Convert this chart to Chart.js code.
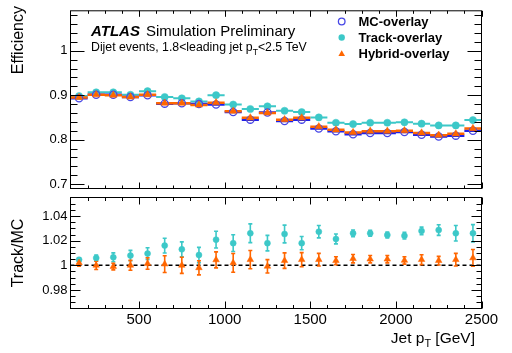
<!DOCTYPE html>
<html><head><meta charset="utf-8">
<script src="https://cdn.jsdelivr.net/npm/chart.js@4"></script>
<style>
html,body{margin:0;padding:0;background:#fff;}
#wrap{position:relative;width:512px;height:353px;background:#fff;}
canvas{position:absolute;left:0;top:0;}
</style></head><body>
<div id="wrap"><canvas id="cTop" width="512" height="353"></canvas><canvas id="cBot" width="512" height="353"></canvas></div>
<script>
// ---- data ----
const ptBins = [150,250,350,450,550,650,750,850,950,1050,1150,1250,1350,1450,1550,1650,1750,1850,1950,2050,2150,2250,2350,2450];
const binHalfWidth = 50;
const effMC     = [0.893,0.901,0.901,0.896,0.900,0.881,0.882,0.880,0.879,0.862,0.845,0.861,0.842,0.845,0.825,0.819,0.812,0.815,0.815,0.817,0.811,0.807,0.809,0.820];
const effTrack  = [0.898,0.9065,0.9065,0.901,0.909,0.896,0.893,0.886,0.900,0.879,0.869,0.875,0.865,0.862,0.850,0.838,0.835,0.838,0.838,0.839,0.836,0.832,0.832,0.844];
const effHybrid = [0.895,0.901,0.900,0.896,0.901,0.882,0.882,0.878,0.883,0.864,0.849,0.860,0.845,0.849,0.829,0.822,0.816,0.819,0.819,0.820,0.815,0.810,0.813,0.825];
const ratioTrack     = [1.0046,1.006,1.0065,1.0079,1.0095,1.016,1.013,1.0084,1.0208,1.018,1.026,1.018,1.0254,1.018,1.0273,1.0214,1.026,1.026,1.0246,1.024,1.0279,1.0286,1.026,1.026];
const ratioTrackErr  = [0.0014,0.0024,0.0036,0.0042,0.0047,0.006,0.006,0.0062,0.0068,0.0068,0.0076,0.0063,0.0072,0.0054,0.005,0.004,0.0027,0.0024,0.0023,0.0027,0.0031,0.0043,0.0063,0.007];
const ratioHybrid    = [1.002,1.000,0.999,1.000,1.0015,1.001,1.000,0.998,1.0044,1.002,1.0046,0.9992,1.0038,1.0046,1.0046,1.0038,1.0054,1.005,1.005,1.004,1.0046,1.0038,1.0046,1.006];
const ratioHybridErr = [0.0027,0.0034,0.0027,0.004,0.0047,0.0068,0.0065,0.0057,0.0065,0.0076,0.0074,0.0054,0.0063,0.0057,0.0051,0.0032,0.0034,0.003,0.003,0.003,0.004,0.0035,0.0051,0.0068];
const effTicksMajor = [0.7,0.8,0.9,1.0];
const effTicksMinor = [0.70,0.72,0.74,0.76,0.78,0.80,0.82,0.84,0.86,0.88,0.90,0.92,0.94,0.96,0.98,1.00,1.02,1.04,1.06,1.08];
const ratioTicksMajor = [0.98,1.00,1.02,1.04];
const ratioTicksMinor = [0.970,0.975,0.980,0.985,0.990,0.995,1.000,1.005,1.010,1.015,1.020,1.025,1.030,1.035,1.040,1.045,1.050];
const xTicksMajor = [500,1000,1500,2000,2500];
const xTicksMinor = [200,300,400,500,600,700,800,900,1000,1100,1200,1300,1400,1500,1600,1700,1800,1900,2000,2100,2200,2300,2400];
const seriesNames = ['MC-overlay','Track-overlay','Hybrid-overlay'];

// ---- styles ----
const FONT = "'Liberation Sans', Arial, Helvetica, sans-serif";
const TEAL = '#3cc8c8';
const ORANGE = '#ff6600';
const BLUE_LINE = '#2020e6';
const BLUE_MARK = '#4646e6';

function fmt(v){ return String(Number(v.toFixed(3))); }

function drawMarker(ctx, style, x, y, r, fill, stroke, lw){
  ctx.save();
  ctx.beginPath();
  if(style==='triangle'){
    ctx.moveTo(x, y - r);
    ctx.lineTo(x + r*0.866, y + r*0.5);
    ctx.lineTo(x - r*0.866, y + r*0.5);
    ctx.closePath();
  } else {
    ctx.arc(x, y, r, 0, Math.PI*2);
  }
  if(fill){ ctx.fillStyle = fill; ctx.fill(); }
  if(stroke){ ctx.strokeStyle = stroke; ctx.lineWidth = lw; ctx.stroke(); }
  ctx.restore();
}

function drawRichText(ctx, parts, x, y, size, align){
  // parts: [{t, sub, weight, style}]
  const widths = parts.map(p=>{
    const s = p.sub ? size*0.7 : size;
    ctx.font = (p.style||'') + ' ' + (p.weight||'') + ' ' + s + 'px ' + FONT;
    return ctx.measureText(p.t).width;
  });
  const total = widths.reduce((a,b)=>a+b,0);
  let cx = align==='right' ? x - total : (align==='center' ? x - total/2 : x);
  parts.forEach((p,i)=>{
    const s = p.sub ? size*0.7 : size;
    ctx.font = (p.style||'') + ' ' + (p.weight||'') + ' ' + s + 'px ' + FONT;
    ctx.textAlign = 'left';
    ctx.fillText(p.t, cx, p.sub ? y + size*0.3 : y);
    cx += widths[i];
  });
}

function drawFrameTicks(chart, cfg){
  const ctx = chart.ctx;
  const {left,right,top,bottom} = chart.chartArea;
  const xs = chart.scales.x, ys = chart.scales.y;
  ctx.save();
  ctx.strokeStyle = '#000';
  ctx.lineWidth = 1;
  ctx.beginPath();
  const yTick = (vals, len)=>{
    vals.forEach(v=>{
      const py = Math.round(ys.getPixelForValue(v)) + 0.5;
      if(py < top-0.1 || py > bottom+0.6) return;
      ctx.moveTo(left, py); ctx.lineTo(left+len, py);
      ctx.moveTo(right, py); ctx.lineTo(right-len, py);
    });
  };
  const xTick = (vals, len)=>{
    vals.forEach(v=>{
      const px = Math.round(xs.getPixelForValue(v)) + 0.5;
      ctx.moveTo(px, bottom); ctx.lineTo(px, bottom-len);
      ctx.moveTo(px, top); ctx.lineTo(px, top+len);
    });
  };
  yTick(cfg.yMinor, cfg.yMinLen);
  yTick(cfg.yMajor, cfg.yMajLen);
  xTick(cfg.xMinor, cfg.xMinLen);
  xTick(cfg.xMajor, cfg.xMajLen);
  ctx.stroke();
  ctx.strokeRect(left, top, right-left, bottom-top);
  ctx.restore();
}

// ---- top panel ----
const topPlugin = {
  id: 'topPanel',
  beforeDatasetsDraw(chart){
    const ctx = chart.ctx, xs = chart.scales.x, ys = chart.scales.y;
    const {left,right,top,bottom} = chart.chartArea;
    ctx.save();
    ctx.beginPath(); ctx.rect(left, top, right-left, bottom-top); ctx.clip();
    const hbar = (vals, color, lw)=>{
      ctx.strokeStyle = color; ctx.lineWidth = lw;
      ctx.beginPath();
      ptBins.forEach((x,i)=>{
        const py = ys.getPixelForValue(vals[i]);
        ctx.moveTo(xs.getPixelForValue(x-binHalfWidth), py);
        ctx.lineTo(xs.getPixelForValue(x+binHalfWidth), py);
      });
      ctx.stroke();
    };
    hbar(effTrack, TEAL, 2);
    hbar(effMC, BLUE_LINE, 2.5);
    hbar(effHybrid, ORANGE, 2.5);
    ctx.restore();
  },
  afterDraw(chart){
    const ctx = chart.ctx;
    drawFrameTicks(chart, {yMajor:effTicksMajor, yMinor:effTicksMinor, yMajLen:14, yMinLen:7,
      xMajor:xTicksMajor, xMinor:xTicksMinor, xMajLen:6, xMinLen:3});
    ctx.save();
    ctx.fillStyle = '#000';
    ctx.textBaseline = 'alphabetic';
    drawRichText(ctx, [{t:'ATLAS', weight:'bold', style:'italic'}], 91, 36, 15, 'left');
    drawRichText(ctx, [{t:'Simulation Preliminary'}], 146, 36, 15, 'left');
    drawRichText(ctx, [{t:'Dijet events, 1.8<leading jet p'},{t:'T', sub:true},{t:'<2.5 TeV'}], 91, 51, 12.3, 'left');
    // legend
    const lx = 341.7, tx = 358.5;
    const rows = [21.5, 37.5, 53.5];
    drawMarker(ctx, 'circle', lx, rows[0], 3.3, null, BLUE_MARK, 1.3);
    drawMarker(ctx, 'circle', lx, rows[1], 3.2, TEAL, null, 0);
    drawMarker(ctx, 'triangle', lx, rows[2]+0.5, 3.8, ORANGE, null, 0);
    seriesNames.forEach((n,i)=>{
      ctx.fillStyle = '#000';
      drawRichText(ctx, [{t:n, weight:'bold'}], tx, rows[i]+4.6, 13, 'left');
    });
    // y title
    ctx.save();
    ctx.translate(22.5, 6);
    ctx.rotate(-Math.PI/2);
    ctx.font = '16px ' + FONT;
    ctx.textAlign = 'right';
    ctx.fillText('Efficiency', 0, 0);
    ctx.restore();
    ctx.restore();
  }
};

new Chart(document.getElementById('cTop'), {
  type: 'scatter',
  data: { datasets: [
    { label: seriesNames[2], data: ptBins.map((x,i)=>({x, y: effHybrid[i]})), pointStyle:'triangle', pointRadius:4.2,
      pointBackgroundColor: ORANGE, pointBorderColor: ORANGE, pointBorderWidth: 0.5, order: 0 },
    { label: seriesNames[0], data: ptBins.map((x,i)=>({x, y: effMC[i]})), pointStyle:'circle', pointRadius:3.6,
      pointBackgroundColor: 'rgba(255,255,255,0)', pointBorderColor: BLUE_MARK, pointBorderWidth: 1.3, order: 1 },
    { label: seriesNames[1], data: ptBins.map((x,i)=>({x, y: effTrack[i]})), pointStyle:'circle', pointRadius:3.6,
      pointBackgroundColor: TEAL, pointBorderColor: TEAL, pointBorderWidth: 0.5, order: 2 }
  ]},
  options: {
    responsive: false, animation: false, events: [],
    layout: { padding: { left: 0, right: 30.5, top: 4.5, bottom: 353 - 188.5 } },
    plugins: { legend: { display: false }, tooltip: { enabled: false } },
    scales: {
      x: { type: 'linear', min: 100, max: 2500, display: false },
      y: { type: 'linear', min: 0.69, max: 1.09,
        afterFit: s => { s.width = 70.5; },
        afterBuildTicks: s => { s.ticks = effTicksMajor.map(v => ({ value: v })); },
        grid: { display: false, drawTicks: false }, border: { display: false },
        ticks: { color: '#000', padding: 3, font: { family: FONT, size: 13 }, callback: v => fmt(v) } }
    }
  },
  plugins: [topPlugin]
});

// ---- bottom panel ----
const botPlugin = {
  id: 'botPanel',
  beforeDatasetsDraw(chart){
    const ctx = chart.ctx, xs = chart.scales.x, ys = chart.scales.y;
    const {left,right,top,bottom} = chart.chartArea;
    ctx.save();
    ctx.beginPath(); ctx.rect(left, top, right-left, bottom-top); ctx.clip();
    // dashed line at 1
    ctx.strokeStyle = '#000'; ctx.lineWidth = 1.5; ctx.setLineDash([4,3]);
    ctx.beginPath();
    const y1 = ys.getPixelForValue(1);
    ctx.moveTo(left, y1); ctx.lineTo(right, y1);
    ctx.stroke();
    ctx.setLineDash([]);
    const ebar = (vals, errs, color)=>{
      ctx.strokeStyle = color; ctx.lineWidth = 1.6;
      ctx.beginPath();
      ptBins.forEach((x,i)=>{
        const px = xs.getPixelForValue(x);
        const yl = ys.getPixelForValue(vals[i]-errs[i]);
        const yh = ys.getPixelForValue(vals[i]+errs[i]);
        ctx.moveTo(px, yl); ctx.lineTo(px, yh);
        ctx.moveTo(px-2, yl); ctx.lineTo(px+2, yl);
        ctx.moveTo(px-2, yh); ctx.lineTo(px+2, yh);
      });
      ctx.stroke();
    };
    ebar(ratioTrack, ratioTrackErr, TEAL);
    ebar(ratioHybrid, ratioHybridErr, ORANGE);
    ctx.restore();
  },
  afterDraw(chart){
    const ctx = chart.ctx;
    drawFrameTicks(chart, {yMajor:ratioTicksMajor, yMinor:ratioTicksMinor, yMajLen:10, yMinLen:5,
      xMajor:xTicksMajor, xMinor:xTicksMinor, xMajLen:7, xMinLen:3.5});
    ctx.save();
    ctx.fillStyle = '#000';
    ctx.textBaseline = 'alphabetic';
    ctx.save();
    ctx.translate(23, 253);
    ctx.rotate(-Math.PI/2);
    ctx.font = '16px ' + FONT;
    ctx.textAlign = 'center';
    ctx.fillText('Track/MC', 0, 0);
    ctx.restore();
    drawRichText(ctx, [{t:'Jet p'},{t:'T', sub:true},{t:' [GeV]'}], 475, 342.5, 15.5, 'right');
    ctx.restore();
  }
};

new Chart(document.getElementById('cBot'), {
  type: 'scatter',
  data: { datasets: [
    { label: 'Hybrid/MC', data: ptBins.map((x,i)=>({x, y: ratioHybrid[i]})), pointStyle:'triangle', pointRadius:3.8,
      pointBackgroundColor: ORANGE, pointBorderColor: ORANGE, pointBorderWidth: 0.5, order: 0 },
    { label: 'Track/MC', data: ptBins.map((x,i)=>({x, y: ratioTrack[i]})), pointStyle:'circle', pointRadius:3,
      pointBackgroundColor: TEAL, pointBorderColor: TEAL, pointBorderWidth: 0.5, order: 1 }
  ]},
  options: {
    responsive: false, animation: false, events: [],
    layout: { padding: { left: 0, right: 30.5, top: 197.5, bottom: 24.5 } },
    plugins: { legend: { display: false }, tooltip: { enabled: false } },
    scales: {
      x: { type: 'linear', min: 100, max: 2500,
        afterFit: s => { s.height = 20; },
        afterBuildTicks: s => { s.ticks = xTicksMajor.map(v => ({ value: v })); },
        grid: { display: false, drawTicks: false }, border: { display: false },
        ticks: { color: '#000', padding: 2, maxRotation: 0, autoSkip: false, font: { family: FONT, size: 15 }, callback: v => String(v) } },
      y: { type: 'linear', min: 0.965, max: 1.055,
        afterFit: s => { s.width = 70.5; },
        afterBuildTicks: s => { s.ticks = ratioTicksMajor.map(v => ({ value: v })); },
        grid: { display: false, drawTicks: false }, border: { display: false },
        ticks: { color: '#000', padding: 3, font: { family: FONT, size: 13 }, callback: v => fmt(v) } }
    }
  },
  plugins: [botPlugin]
});
</script>
</body></html>
